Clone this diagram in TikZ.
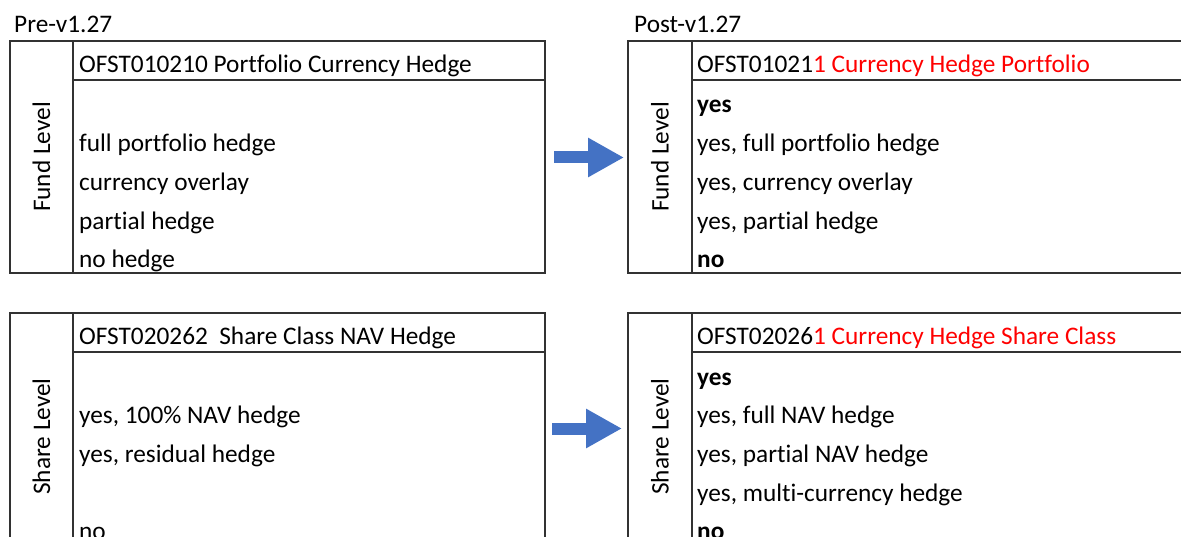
\documentclass[tikz,border=0pt]{standalone}
\usepackage{fontspec}
\setmainfont[Ligatures={NoCommon}]{Carlito}
\usepackage{xcolor}
\usetikzlibrary{arrows.meta}
\definecolor{chgred}{RGB}{255,0,0}
\definecolor{arrblue}{RGB}{68,114,196}
\definecolor{gridgray}{RGB}{50,50,50}

\begin{document}
\begin{tikzpicture}[x=1pt,y=-1pt,
    cell/.style={draw=gridgray,line width=1.1pt},
    txt/.style={anchor=base west,inner sep=0pt,font=\fontsize{25.3}{30}\selectfont},
    lvl/.style={rotate=90,inner sep=0pt,font=\fontsize{25.3}{30}\selectfont},
    bigarrow/.style={arrblue,line width=12pt,-{Triangle[length=36pt,width=37pt]}}]
        \useasboundingbox (0,0) rectangle (1181,537);
        \clip (0,0) rectangle (1181,537);
        % titles
        \node[txt] (pre) at (14,32.5) {Pre-v1.27};
        \node[txt] (post) at (634,32.5) {Post-v1.27};
        % fund level, old
        \draw[cell] (10,41) rectangle (73,273) node[pos=.5,lvl] (fundold) {Fund Level};
        \draw[cell] (73,41) rectangle (545,80);
        \draw[cell] (73,80) rectangle (545,273);
        \node[txt] (hfo) at (79,72.5) {OFST010210 Portfolio Currency Hedge};
        \node[txt] (fo1) at (79,151.5) {full portfolio hedge};
        \node[txt] (fo2) at (79,190.5) {currency overlay};
        \node[txt] (fo3) at (79,229.5) {partial hedge};
        \node[txt] (fo4) at (79,267.5) {no hedge};
        % fund level, new
        \draw[cell] (628,41) rectangle (692,273) node[pos=.5,lvl] (fundnew) {Fund Level};
        \draw[cell] (692,41) rectangle (1200,80);
        \draw[cell] (692,80) rectangle (1200,273);
        \node[txt] (hfn) at (697,72.5) {OFST01021\textcolor{chgred}{1 Currency Hedge Portfolio}};
        \node[txt] (fn0) at (697,113) {\bfseries yes};
        \node[txt] (fn1) at (697,151.5) {yes, full portfolio hedge};
        \node[txt] (fn2) at (697,190.5) {yes, currency overlay};
        \node[txt] (fn3) at (697,229.5) {yes, partial hedge};
        \node[txt] (fn4) at (697,267.5) {\bfseries no};
        % share level, old
        \draw[cell] (10,313) rectangle (73,560) node[pos=.5,lvl] (shareold) {Share Level};
        \draw[cell] (73,313) rectangle (545,352);
        \draw[cell] (73,352) rectangle (545,560);
        \node[txt] (hso) at (79,344.5) {OFST020262\ \ Share Class NAV Hedge};
        \node[txt] (so1) at (79,423.5) {yes, 100\% NAV hedge};
        \node[txt] (so2) at (79,462.5) {yes, residual hedge};
        \node[txt] (so4) at (79,539) {no};
        % share level, new
        \draw[cell] (628,313) rectangle (692,560) node[pos=.5,lvl] (sharenew) {Share Level};
        \draw[cell] (692,313) rectangle (1200,352);
        \draw[cell] (692,352) rectangle (1200,560);
        \node[txt] (hsn) at (697,344.5) {OFST02026\textcolor{chgred}{1 Currency Hedge Share Class}};
        \node[txt] (sn0) at (697,385) {\bfseries yes};
        \node[txt] (sn1) at (697,423.5) {yes, full NAV hedge};
        \node[txt] (sn2) at (697,462.5) {yes, partial NAV hedge};
        \node[txt] (sn3) at (697,501.5) {yes, multi-currency hedge};
        \node[txt] (sn4) at (697,539) {\bfseries no};
        % arrows
        \coordinate (a1s) at (554,157.5);
        \coordinate (a1e) at (624,157.5);
        \coordinate (a2s) at (552,428.5);
        \coordinate (a2e) at (622,428.5);
        \draw[bigarrow] (a1s) -- (a1e);
        \draw[bigarrow] (a2s) -- (a2e);
\end{tikzpicture}
\end{document}
